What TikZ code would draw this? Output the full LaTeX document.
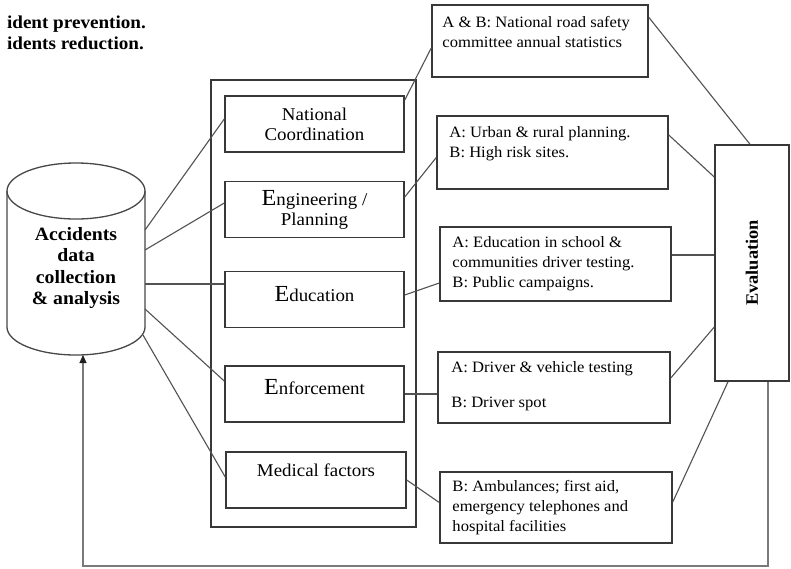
\documentclass[tikz,border=0pt]{standalone}
\usepackage{fontspec}
\setmainfont[FakeStretch=1.05]{Liberation Serif}
\usetikzlibrary{arrows.meta,calc}
% larger initial capital used in the programme boxes
\newcommand\capE{{\fontsize{23}{20}\selectfont E}}
% shift a line upwards without changing the box size
\newcommand\liftby[2]{\raisebox{#1}[\height][\depth]{#2}}
\begin{document}
\begin{tikzpicture}[x=1pt,y=-1pt,
  frame/.style={draw=black!78, line width=1.5pt},
  inbox/.style={frame, minimum width=179pt, minimum height=56pt, inner sep=0pt,
    align=center, font=\fontsize{18}{20}\selectfont},
  outbox/.style={frame, inner sep=0pt},
  rtext/.style={anchor=north west, inner sep=0pt, align=left,
    font=\fontsize{15.8}{20}\selectfont},
  link/.style={draw=black!68, line width=1.1pt},
  loopline/.style={draw=black!52, line width=1.2pt},
]
\useasboundingbox (0,0) rectangle (791,568);
\fill[white] (0,0) rectangle (791,568);

% heading lines
\node[anchor=east, inner sep=0pt, font=\bfseries\fontsize{18.2}{19}\selectfont] (hdA) at (146,24) {ident prevention.};
\node[anchor=east, inner sep=0pt, font=\bfseries\fontsize{18.2}{19}\selectfont] (hdB) at (144,43) {idents reduction.};

% data store cylinder
\draw[draw=black!72, line width=1.3pt] (7,191) -- (7,327)
  arc[start angle=180, end angle=360, x radius=69pt, y radius=28pt] -- (145,191);
\draw[draw=black!72, line width=1.3pt] (76,191) ellipse [x radius=69pt, y radius=28pt];
\node[align=center, font=\bfseries\fontsize{18.8}{21.5}\selectfont] (acc) at (76,268)
  {Accidents\\data\\collection\\\& analysis};
\coordinate (c1) at (145,230);
\coordinate (c2) at (145,250);
\coordinate (c3) at (145,284);
\coordinate (c4) at (145,309);
\coordinate (c5) at (143,335);
\coordinate (cb) at (83,355);

% programme group
\node[frame, minimum width=205pt, minimum height=447pt] (grp) at (313.5,303.5) {};
\node[inbox] (nc)  at (314.5,124)   {National\\Coordination};
\node[inbox] (eng) at (314.5,209.5) {\capE ngineering /\\Planning};
\node[inbox] (edu) at (314.5,299.5) {\liftby{5.5pt}{\capE ducation}};
\node[inbox] (enf) at (314.5,394)   {\liftby{7pt}{\capE nforcement}};
\node[inbox, minimum width=180pt] (med) at (316,480) {\liftby{10pt}{Medical factors}};

% measures
\node[outbox, minimum width=216pt, minimum height=72pt] (r1) at (540,41) {};
\node[outbox, minimum width=231pt, minimum height=73pt] (r2) at (552.5,152.5) {};
\node[outbox, minimum width=231pt, minimum height=74pt] (r3) at (555.5,264) {};
\node[outbox, minimum width=232pt, minimum height=71pt] (r4) at (554,387.5) {};
\node[outbox, minimum width=232pt, minimum height=71pt] (r5) at (556,507.5) {};
\node[rtext] (t1) at ($(r1.north west)+(11,11.5)$) {A \& B: National road safety\\committee annual statistics};
\node[rtext] (t2) at ($(r2.north west)+(13,11)$) {A: Urban \& rural planning.\\B: High risk sites.};
\node[rtext] (t3) at ($(r3.north west)+(13,10)$) {A: Education in school \&\\communities driver testing.\\B: Public campaigns.};
\node[rtext] (t4) at ($(r4.north west)+(14,10)$) {A: Driver \& vehicle testing\\[15pt]B: Driver spot};
\node[rtext] (t5) at ($(r5.north west)+(13,9)$) {B: Ambulances; first aid,\\emergency telephones and\\hospital facilities};

% evaluation
\node[frame, minimum width=74pt, minimum height=236pt, inner sep=0pt] (eval) at (752,263)
  {\rotatebox{90}{\bfseries\fontsize{17.5}{18}\selectfont Evaluation}};

% data store to programmes
\draw[link] (c1) -- ($(nc.west)+(0,-5)$);
\draw[link] (c2) -- ($(eng.west)+(0,-6.5)$);
\draw[link] (c3) -- (edu.west |- c3);
\draw[link] (c4) -- ($(enf.west)+(0,-13)$);
\draw[link] (c5) -- ($(med.west)+(0,-3)$);

% programmes to measures
\draw[link] ($(nc.east)+(0,-24)$) -- ($(r1.west)+(0,7)$);
\draw[link] ($(eng.east)+(0,-12.5)$) -- ($(r2.west)+(0,5)$);
\draw[link] ($(edu.east)+(0,-4.5)$) -- ($(r3.west)+(0,19)$);
\draw[link] (enf.east) -- (r4.west |- enf.east);
\draw[link] (med.east) -- ($(r5.west)+(0,-5)$);

% measures to evaluation
\draw[link] ($(r1.north east)+(0,13)$) -- ($(eval.north)+(-2,0)$);
\draw[link] ($(r2.east)+(0,-17.5)$) -- ($(eval.west)+(0,-86)$);
\draw[link] ($(r3.east)+(0,-9)$) coordinate (k3) -- (eval.west |- k3);
\draw[link] ($(r4.east)+(0,-9.5)$) -- ($(eval.west)+(0,64)$);
\draw[link] ($(r5.east)+(0,-5.5)$) -- ($(eval.south)+(-24,0)$);

% feedback loop
\coordinate (fbR) at (768,566);
\coordinate (fbL) at (83,566);
\draw[loopline, -{Triangle[length=8pt, width=7pt, color=black!88, fill=black!88]}]
  (eval.south -| fbR) -- (fbR) -- (fbL) -- (cb);
\end{tikzpicture}
\end{document}
